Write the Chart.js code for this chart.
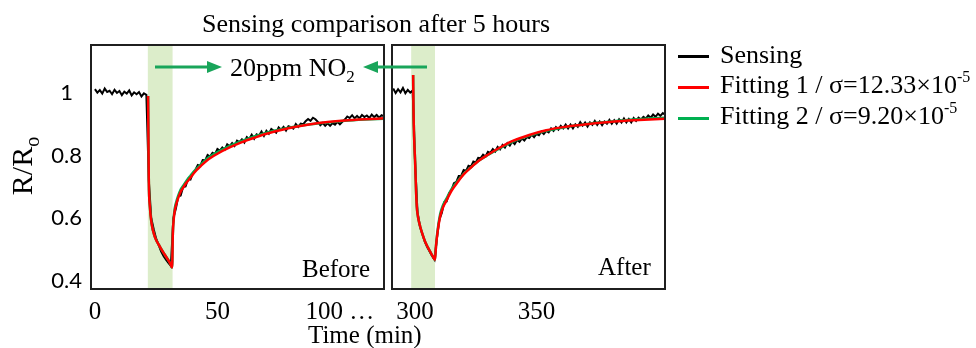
<!DOCTYPE html>
<html><head><meta charset="utf-8">
<script src="https://cdn.jsdelivr.net/npm/chart.js@4.4.1/dist/chart.umd.min.js"></script>
<style>
html,body{margin:0;padding:0;background:#fff;}
#wrap{position:relative;width:976px;height:348px;overflow:hidden;font-family:"Liberation Serif","Times New Roman",serif;color:#000;}
canvas{position:absolute;left:0;top:0;}
.t{position:absolute;white-space:nowrap;line-height:1;}
.lg{position:absolute;left:678px;width:31px;height:3px;}
</style></head>
<body><div id="wrap">
<canvas id="cL" width="976" height="348"></canvas>
<canvas id="cR" width="976" height="348"></canvas>
<svg width="976" height="348" style="position:absolute;left:0;top:0">
<line x1="155" y1="67" x2="210" y2="67" stroke="#19a55a" stroke-width="3"/>
<polygon points="222,67 207,61 207,73" fill="#19a55a"/>
<line x1="375" y1="67" x2="427" y2="67" stroke="#19a55a" stroke-width="3"/>
<polygon points="363,67 378,61 378,73" fill="#19a55a"/>
</svg>
<div class="t" style="left:0;width:752px;text-align:center;top:11px;font-size:26px">Sensing comparison after 5 hours</div>
<div class="t" style="left:230px;top:55px;font-size:26px">20ppm NO<span style="font-size:17px;position:relative;top:6px">2</span></div>
<div class="t" style="left:302px;top:256px;font-size:25px">Before</div>
<div class="t" style="left:598px;top:254px;font-size:25px">After</div>
<div class="t" style="left:308px;top:322px;font-size:25px">Time (min)</div>
<div class="t" style="left:-18px;top:148px;width:80px;height:36px;line-height:36px;text-align:center;font-size:30px;transform:rotate(-90deg)">R/R<span style="font-size:20px;position:relative;top:7px">o</span></div>
<div class="lg" style="top:55px;background:#000"></div>
<div class="lg" style="top:86px;background:#ff0000"></div>
<div class="lg" style="top:117px;background:#00b050"></div>
<div class="t" style="left:720px;top:42px;font-size:26px">Sensing</div>
<div class="t" style="left:720px;top:72px;font-size:26px">Fitting 1 / σ=12.33×10<span style="font-size:16px;position:relative;top:-11px">-5</span></div>
<div class="t" style="left:720px;top:103px;font-size:26px">Fitting 2 / σ=9.20×10<span style="font-size:16px;position:relative;top:-11px">-5</span></div>
</div>
<script>
// ---- data ----
const sensLeftStart = 0; // minutes, 1-min step
const sensLeft = [
 1.012,1.001,1.009,0.998,1.014,1.003,1.007,0.996,1.010,1.000,1.006,0.993,1.004,0.998,1.008,0.992,1.002,0.996,1.003,0.989,0.999,0.994,
 0.720,0.600,0.565,0.535,0.515,0.495,0.480,0.468,0.458,0.448,0.600,
 0.630,0.669,0.673,0.700,0.702,0.726,0.724,0.744,
 0.754,0.770,0.767,0.786,0.785,0.802,0.797,0.809,0.805,0.821,
 0.816,0.826,0.819,0.836,0.830,0.840,0.831,0.848,0.843,0.852,
 0.842,0.859,0.853,0.867,0.854,0.868,0.864,0.877,0.863,0.879,
 0.870,0.885,0.879,0.873,0.890,0.883,0.892,0.880,0.894,0.891,
 0.886,0.901,0.892,0.902,0.900,0.910,0.917,0.911,0.921,0.916,
 0.908,0.897,0.904,0.895,0.903,0.895,0.904,0.899,0.908,0.900,
 0.908,0.915,0.925,0.920,0.929,0.919,0.927,0.919,0.930,0.923,
 0.928,0.920,0.931,0.923,0.930,0.921,0.929,0.925
];
const sensRightStart = 291;
const sensRight = [
 1.014,1.000,1.012,1.002,1.016,0.999,1.010,1.001,1.008,0.780,0.620,0.574,0.550,0.526,0.508,0.494,0.480,0.468,
 0.536,0.596,0.617,0.651,0.654,0.680,0.690,0.712,0.716,0.735,0.736,0.754,
 0.751,0.768,0.765,0.781,0.778,0.793,0.792,0.803,0.797,0.812,
 0.809,0.821,0.813,0.828,0.820,0.834,0.826,0.840,0.832,0.845,
 0.837,0.850,0.844,0.855,0.848,0.859,0.856,0.867,0.859,0.869,
 0.865,0.877,0.869,0.879,0.874,0.887,0.879,0.891,0.883,0.895,
 0.887,0.899,0.887,0.899,0.887,0.900,0.892,0.907,0.896,0.906,
 0.893,0.906,0.898,0.911,0.898,0.909,0.897,0.909,0.902,0.914,
 0.902,0.913,0.902,0.916,0.906,0.919,0.906,0.917,0.906,0.920,
 0.911,0.921,0.915,0.924,0.918,0.928,0.921,0.931,0.924,0.934,0.927,0.936,0.930
];
const fitLeftT = [21.7,21.85,22.0,22.45,23.1,24.5,26.5,28.6,30.6,31.5,31.8,32.2,32.6,33.2,34,35,36.2,37.4,39,41,43,45.6,50,55,60,65,70,76,82,88,95,102,110,118];
const fit1Left = [0.99,0.85,0.72,0.636,0.585,0.54,0.51,0.483,0.458,0.443,
 0.55,0.60,0.625,0.645,0.665,0.685,0.70,0.714,0.73,0.75,0.765,0.784,0.806,0.826,0.843,0.857,0.870,0.882,0.892,0.900,0.907,0.912,0.916,0.919];
const fit2Left = [0.99,0.85,0.72,0.636,0.585,0.54,0.51,0.483,0.458,0.443,
 0.55,0.605,0.632,0.652,0.672,0.692,0.706,0.72,0.736,0.755,0.770,0.789,0.811,0.831,0.847,0.861,0.873,0.884,0.893,0.900,0.906,0.911,0.915,0.918];
const fitRightT = [299.2,299.35,299.6,300,300.4,300.7,301.2,302.1,303,304.1,305.2,306.2,307.2,308.2,308.6,309.2,310.3,311.5,313,315,317.2,320,323,326.5,330,335,340,347,354,361,368,375,382,390,403];
const fit1Right = [1.057,0.95,0.86,0.785,0.69,0.638,0.605,0.574,0.55,0.526,0.508,0.494,0.48,0.468,
 0.51,0.553,0.605,0.635,0.658,0.688,0.712,0.74,0.762,0.785,0.803,0.826,0.846,0.866,0.881,0.891,0.898,0.904,0.909,0.913,0.918];
const fit2Right = [1.057,0.95,0.86,0.785,0.69,0.638,0.605,0.574,0.55,0.526,0.508,0.494,0.48,0.468,
 0.51,0.558,0.612,0.642,0.664,0.693,0.716,0.742,0.763,0.785,0.802,0.824,0.844,0.864,0.879,0.890,0.898,0.905,0.910,0.915,0.921];
const bandLeft = [21.6, 31.7];
const bandRight = [298.4, 308.2];
const xTicksLeft = [0, 50, 100];
const xTickLabelsLeft = ['0', '50', '100 …'];
const xTicksRight = [300, 350];
const xTickLabelsRight = ['300', '350'];
const yTicks = [0.4, 0.6, 0.8, 1];
const yTickLabels = ['0.4', '0.6', '0.8', '1'];
const xRangeLeft = [-1.6, 118];
const xRangeRight = [290.5, 402.9];
const yRange = [0.3745, 1.153];

// ---- helpers ----
const seq = (start, arr) => arr.map((v, i) => ({x: start + i, y: v}));
const pairs = (ts, arr) => arr.map((v, i) => ({x: ts[i], y: v}));

const boxPlugin = {
  id: 'box',
  beforeDatasetsDraw(chart, args, o) {
    const {ctx, chartArea: a, scales: {x}} = chart;
    ctx.save();
    ctx.fillStyle = '#dcedca';
    const x0 = x.getPixelForValue(o.band[0]), x1 = x.getPixelForValue(o.band[1]);
    ctx.fillRect(x0, a.top, x1 - x0, a.bottom - a.top);
    ctx.restore();
  },
  afterDraw(chart) {
    const {ctx, chartArea: a} = chart;
    ctx.save();
    ctx.strokeStyle = '#1f1f1f';
    ctx.lineWidth = 2;
    ctx.strokeRect(a.left, a.top, a.right - a.left, a.bottom - a.top);
    ctx.restore();
  }
};

function makeChart(id, cfg) {
  return new Chart(document.getElementById(id), {
    type: 'line',
    data: {datasets: [
      {data: pairs(cfg.fitT, cfg.fit1), borderColor: '#ff0000', borderWidth: 2.5, order: 1, cubicInterpolationMode: 'monotone'},
      {data: pairs(cfg.fitT, cfg.fit2), borderColor: '#00b050', borderWidth: 2.5, order: 2, cubicInterpolationMode: 'monotone'},
      {data: seq(cfg.sStart, cfg.sens), borderColor: '#000000', borderWidth: 2, order: 3}
    ]},
    options: {
      responsive: false, animation: false, devicePixelRatio: 1,
      layout: {padding: {left: cfg.padL, right: cfg.padR, top: 45, bottom: 0}},
      plugins: {legend: {display: false}, tooltip: {enabled: false}, box: {band: cfg.band}},
      elements: {point: {radius: 0}},
      scales: {
        x: {
          type: 'linear', min: cfg.xr[0], max: cfg.xr[1],
          grid: {display: false, drawTicks: false}, border: {display: false},
          afterBuildTicks: s => { s.ticks = cfg.xt.map(v => ({value: v})); },
          afterFit: s => { s.height = 59; },
          ticks: {autoSkip: false, maxRotation: 0, padding: 8, color: '#000',
            font: {family: 'Liberation Serif', size: 25},
            callback: (v, i) => cfg.xl[i]}
        },
        y: {
          display: cfg.showY, min: yRange[0], max: yRange[1],
          grid: {display: false, drawTicks: false}, border: {display: false},
          afterBuildTicks: s => { s.ticks = yTicks.map(v => ({value: v})); },
          afterFit: s => { s.width = cfg.showY ? 91 : 0; },
          ticks: {padding: 9, crossAlign: 'center', color: '#000',
            font: {family: 'Lato', size: 22},
            callback: (v, i) => yTickLabels[i]}
        }
      }
    },
    plugins: [boxPlugin]
  });
}

makeChart('cL', {fitT: fitLeftT, fit1: fit1Left, fit2: fit2Left, sStart: sensLeftStart, sens: sensLeft,
  band: bandLeft, xr: xRangeLeft, xt: xTicksLeft, xl: xTickLabelsLeft, showY: true, padL: 0, padR: 976 - 384});
makeChart('cR', {fitT: fitRightT, fit1: fit1Right, fit2: fit2Right, sStart: sensRightStart, sens: sensRight,
  band: bandRight, xr: xRangeRight, xt: xTicksRight, xl: xTickLabelsRight, showY: false, padL: 392, padR: 976 - 665});
</script>
</body></html>
